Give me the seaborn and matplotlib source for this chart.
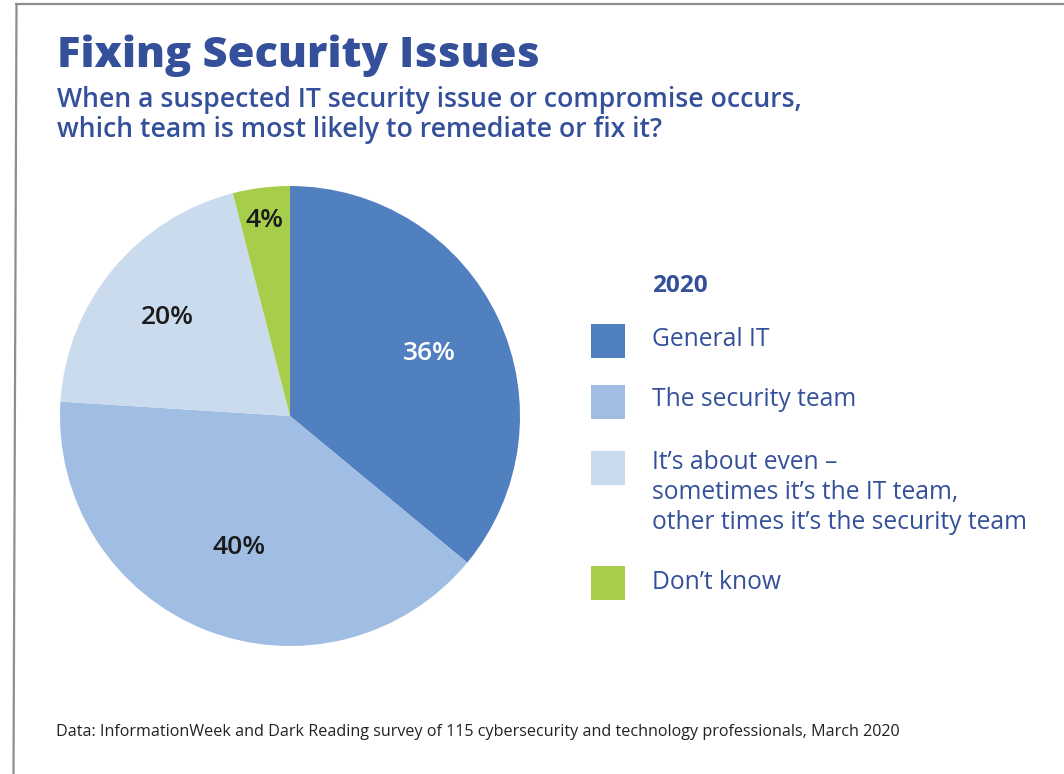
import matplotlib
matplotlib.use("Agg")
import matplotlib.pyplot as plt
from matplotlib.patches import Rectangle
from matplotlib.lines import Line2D
import numpy as np
import seaborn as sns

# Survey results, 2020
categories = [
    "General IT",
    "The security team",
    "It\u2019s about even \u2013\nsometimes it\u2019s the IT team,\nother times it\u2019s the security team",
    "Don\u2019t know",
]
shares = [36, 40, 20, 4]
legend_title = "2020"

title = "Fixing Security Issues"
subtitle = ("When a suspected IT security issue or compromise occurs,\n"
            "which team is most likely to remediate or fix it?")
source = ("Data: InformationWeek and Dark Reading survey of 115 cybersecurity "
          "and technology professionals, March 2020")

sns.set_theme(style="white")
plt.rcParams["font.family"] = ["Open Sans", "DejaVu Sans"]

palette = sns.color_palette(["#5180c1", "#a0bde3", "#cbdbee", "#a6ce4b"])
label_colors = ["white", "#1a1a1a", "#1a1a1a", "#1a1a1a"]
label_radius = [0.67, 0.60, 0.69, 0.87]
navy = "#34509a"

W, H = 1064, 774
fig = plt.figure(figsize=(W / 100, H / 100), dpi=100)
fig.patch.set_facecolor("white")


def fx(px):
    return px / W


def fy(py):
    return 1 - py / H


# frame lines along top and left edge
fig.add_artist(Line2D([fx(16), 1], [fy(4), fy(4)], color="#8d8d8d", lw=1.6,
                      transform=fig.transFigure))
fig.add_artist(Line2D([fx(16.5), fx(13.5)], [fy(4), 0], color="#8d8d8d", lw=1.6,
                      transform=fig.transFigure))

# pie
cx, cy, r = 290, 416, 230
ax = fig.add_axes([fx(cx - r), fy(cy + r), (2 * r) / W, (2 * r) / H])
wedges, _ = ax.pie(shares, colors=palette, startangle=90, counterclock=False,
                   radius=1, wedgeprops=dict(linewidth=0))
ax.set_xlim(-1, 1)
ax.set_ylim(-1, 1)
ax.set_aspect("equal")
ax.axis("off")

for w, val, col, lr in zip(wedges, shares, label_colors, label_radius):
    mid = np.deg2rad((w.theta1 + w.theta2) / 2)
    ax.text(lr * np.cos(mid), lr * np.sin(mid), f"{val}%", ha="center",
            va="center_baseline", fontsize=19, color=col, fontweight="semibold")

# titles
fig.text(fx(57), fy(67), title, fontsize=31.2, fontweight=800, color=navy,
         ha="left", va="baseline")
sub_lines = subtitle.split("\n")
for i, line in enumerate(sub_lines):
    fig.text(fx(57), fy(107 + 30 * i), line, fontsize=19.2,
             fontweight="semibold", color=navy, ha="left", va="baseline")

# legend
fig.text(fx(652), fy(292), legend_title, fontsize=17.6, fontweight="bold",
         color=navy, ha="left", va="baseline")
sq_tops = [324, 385, 451, 566]
baselines = [346, 406, 469, 589]
sq = 34
for cat, col, top, base in zip(categories, palette, sq_tops, baselines):
    fig.add_artist(Rectangle((fx(591), fy(top + sq)), sq / W, sq / H,
                             facecolor=col, edgecolor="none",
                             transform=fig.transFigure))
    for i, line in enumerate(cat.split("\n")):
        fig.text(fx(652), fy(base + 30 * i), line, fontsize=17.7,
                 color=navy, ha="left", va="baseline")

# source note
fig.text(fx(56), fy(736.5), source, fontsize=11.65, color="#222222",
         ha="left", va="baseline")

fig.savefig("out.png", dpi=100, facecolor="white")
